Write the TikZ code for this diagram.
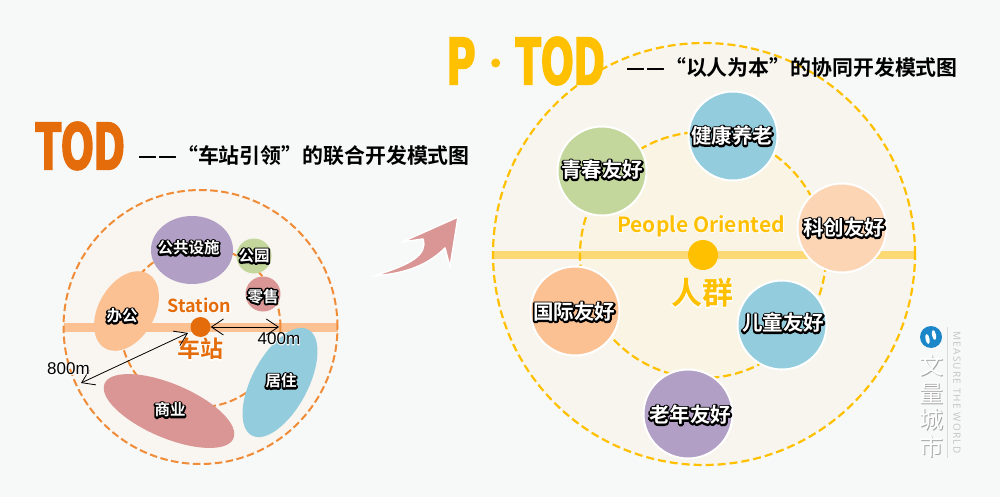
\documentclass[tikz,border=0pt]{standalone}
\usepackage{fontspec}
\setmainfont{Noto Sans CJK SC}
\newfontfamily\latinf{Liberation Sans}
\newfontfamily\wordsf[LetterSpace=12]{Noto Sans}
\newfontfamily\condf[FakeStretch=0.6,FakeBold=4.5,LetterSpace=3.5]{Liberation Sans Bold}
\newfontfamily\cjkb{Noto Sans CJK SC Bold}
\usetikzlibrary{arrows.meta,shapes.geometric}
\definecolor{bgc}{HTML}{F7F9F8}
\definecolor{fillc}{HTML}{F9F5F0}
\definecolor{fillr}{HTML}{F7F5EE}
\definecolor{fillin}{HTML}{F9F4E3}
\definecolor{orng}{HTML}{E46C0A}
\definecolor{dashl}{HTML}{F08C37}
\definecolor{peach}{HTML}{FBC193}
\definecolor{purp}{HTML}{B19FC5}
\definecolor{grn}{HTML}{C3D69B}
\definecolor{rosec}{HTML}{D99694}
\definecolor{bluec}{HTML}{93CDDD}
\definecolor{peachl}{HTML}{FCD5B5}
\definecolor{gold}{HTML}{FFC000}
\definecolor{goldl}{HTML}{FDD976}
\definecolor{logoc}{HTML}{1B87C9}
\newcommand{\halo}[4]{\leavevmode\special{pdf:code 1 j}\rlap{\color{#2}\addfontfeature{FakeBold=#1}#4}\textcolor{#3}{#4}}
\newcommand{\lab}[2]{\halo{#1}{black}{white}{#2}}
\tikzset{
 x=1pt,y=-1pt,
 lbl/.style={font=\cjkb\fontsize{15.5}{15.5}\selectfont,inner sep=0pt},
 lblr/.style={font=\cjkb\fontsize{20.5}{20.5}\selectfont,inner sep=0pt},
 friend/.style={circle,draw=white,line width=2pt,minimum size=#1,inner sep=0pt},
 dashL/.style={draw=dashl,line width=2pt,dash pattern=on 7.5pt off 3.5pt},
 dashR/.style={draw=gold,line width=2.2pt,dash pattern=on 8pt off 4pt},
 dim/.style={draw=black,line width=0.8pt,{Straight Barb[length=12pt,width=16pt]}-{Straight Barb[length=12pt,width=16pt]}},
 title/.style={font=\cjkb\fontsize{20.9}{20.9}\selectfont,inner sep=0pt,text=black},
 big/.style={font=\condf\fontsize{66}{66}\selectfont,inner sep=0pt},
 logotxt/.style={font=\fontsize{24}{24}\selectfont,inner sep=0pt},
 dimtxt/.style={font=\latinf\fontsize{17}{17}\selectfont,inner sep=0pt},
}
\begin{document}
\begin{tikzpicture}
\useasboundingbox (0,0) rectangle (1000,497);
\fill[bgc] (0,0) rectangle (1000,497);
% ---- left
\node[circle,fill=fillc,minimum size=274pt,inner sep=0pt] (discL) at (200.5,327) {};
\node[fill=peach,minimum width=274pt,minimum height=9pt,inner sep=0pt] (bandL) at (200.5,327) {};
\node[circle,dashL,minimum size=274pt,inner sep=0pt] (outerL) at (200.5,327) {};
\node[circle,dashL,minimum size=160pt,inner sep=0pt] (innerL) at (200.5,327) {};
\node[big,text=orng] (tod) at (80,146) {TOD};
\node[title,anchor=west] (t1) at (138,156) {—\kern1pt—“车站引领”的联合开发模式图};
\node[ellipse,fill=purp,minimum width=82pt,minimum height=68pt,inner sep=0pt] (pub) at (192,250) {};
\node[lbl] at (188.5,248) {\lab{22}{公共设施}};
\node[circle,fill=grn,minimum size=35pt,inner sep=0pt] (park) at (254,256) {};
\node[lbl] at (254,256) {\lab{22}{公园}};
\node[circle,fill=rosec,minimum size=35pt,inner sep=0pt] (ret) at (263,294) {};
\node[lbl] at (263,296.5) {\lab{22}{零售}};
\node[ellipse,fill=peach,rotate=60,minimum width=86pt,minimum height=56pt,inner sep=0pt] (off) at (126.5,311) {};
\node[lbl] at (122,316) {\lab{22}{办公}};
\node[ellipse,fill=rosec,rotate=-23,minimum width=140pt,minimum height=54pt,inner sep=0pt] (com) at (169,411) {};
\node[lbl] at (170,410) {\lab{22}{商业}};
\node[ellipse,fill=bluec,rotate=62,minimum width=120pt,minimum height=56pt,inner sep=0pt] (res) at (280,382.5) {};
\node[lbl] at (281,381) {\lab{22}{居住}};
\node[font=\cjkb\fontsize{18}{18}\selectfont,inner sep=0pt] (stn) at (199.5,305) {\halo{8}{white}{orng}{Station}};
\node[circle,fill=orng,minimum size=20pt,inner sep=0pt] (hub) at (200.5,327) {};
\node[font=\cjkb\fontsize{23}{23}\selectfont,inner sep=0pt] (che) at (200,349) {\halo{8}{white}{orng}{车站}};
\coordinate (p400) at (279,327);
\coordinate (p800) at (81,383);
\coordinate (h800) at (188,333);
\draw[dim] (hub.east) -- (p400);
\draw[dim] (h800) -- (p800);
\node[dimtxt] (l400) at (279,339) {\halo{6}{white}{black}{400m}};
\node[dimtxt] (l800) at (68.5,369) {\halo{6}{white}{black}{800m}};
% ---- arrow
\fill[rosec,draw=white,line width=1.5pt,line join=round] (373,276) .. controls (410,265) and (428,255) .. (423,239) -- (402,242) -- (458,217) -- (450,267) -- (445,248) .. controls (425,268) and (400,274) .. (373,276) -- cycle;
% ---- right
\node[circle,fill=fillr,minimum size=422pt,inner sep=0pt] (discR) at (704,254) {};
\node[circle,fill=fillin,minimum size=246pt,inner sep=0pt] (discI) at (703,255) {};
\node[fill=goldl,minimum width=422pt,minimum height=8pt,inner sep=0pt] (bandR) at (704,255) {};
\node[circle,dashR,minimum size=422pt,inner sep=0pt] (outerR) at (704,254) {};
\node[circle,dashR,minimum size=246pt,inner sep=0pt] (innerR) at (703,255) {};
\foreach \n/\cx/\cy/\col/\tx/\ty/\txt in {a/733/136/bluec/732/136/健康养老,b/602/171/grn/602/170/青春友好,c/842/228/peachl/844/228/科创友好,d/575/311/peach/574/312/国际友好,e/782/325/bluec/783/323/儿童友好,f/688/414/purp/690/415/老年友好}{
  \node[friend=89pt,fill=\col] (\n) at (\cx,\cy) {};
  \node[lblr] at (\tx,\ty) {\lab{16}{\txt}};
}
\node[font=\cjkb\fontsize{21}{21}\selectfont,inner sep=0pt] (po) at (701,226) {\halo{7}{white}{gold}{People Oriented}};
\node[circle,fill=gold,minimum size=30pt,inner sep=0pt] (hubR) at (703,255) {};
\node[font=\cjkb\fontsize{31}{31}\selectfont,inner sep=0pt] (rq) at (702,293) {\halo{6}{white}{gold}{人群}};
\node[big,text=gold,anchor=west] (ptod) at (448,61) {P};
\node[circle,fill=gold,minimum size=9pt,inner sep=0pt] (dot) at (495.7,63) {};
\node[big,text=gold,anchor=west] (tod2) at (516,61) {TOD};
\node[title,anchor=west] (t2) at (626,67) {—\kern1pt—“以人为本”的协同开发模式图};
% ---- logo
\node[circle,fill=logoc,minimum size=22pt,inner sep=0pt] (logo) at (931,337) {};
\fill[white,rotate around={12:(927.5,339)}] (927.5,339) ellipse (2pt and 5pt);
\fill[white,rotate around={12:(934,335)}] (934,335) ellipse (2pt and 5pt);
\node[logotxt,text=black!35] (wenS) at (932,366) {文};
\node[logotxt,text=black!35] (liangS) at (932,394) {量};
\node[logotxt,text=black!35] (chengS) at (932,420) {城};
\node[logotxt,text=black!35] (shiS) at (932,447) {市};
\node[logotxt,text=white] (wen) at (931,365) {文};
\node[logotxt,text=white] (liang) at (931,393) {量};
\node[logotxt,text=white] (cheng) at (931,419) {城};
\node[logotxt,text=white] (shi) at (931,446) {市};
\draw[black!15,line width=1pt] (947.5,327) -- (947.5,458);
\node[font=\wordsf\fontsize{10}{10}\selectfont,text=black!22,rotate=-90,inner sep=0pt] (mw) at (957,392.5) {MEASURE THE WORLD};
\end{tikzpicture}
\end{document}
